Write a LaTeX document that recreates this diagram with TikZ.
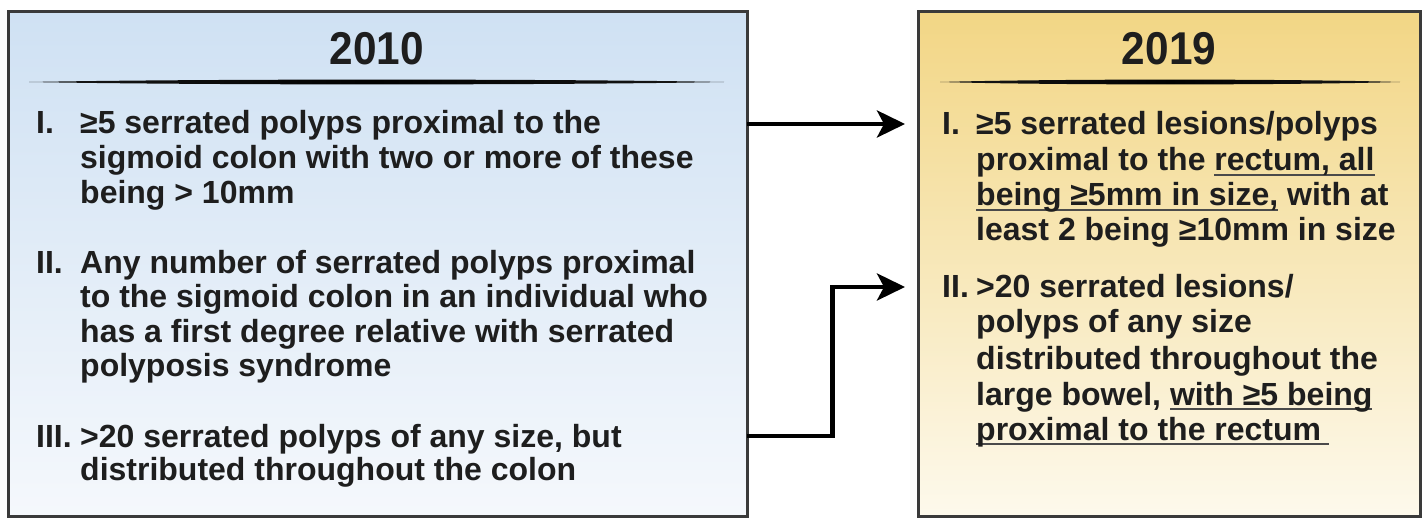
\documentclass[tikz,border=0pt]{standalone}
\usepackage{fontspec}
\setmainfont{Liberation Sans}
\usetikzlibrary{arrows.meta,calc}
\definecolor{txt}{HTML}{1E1E1E}
\definecolor{frame}{HTML}{3A3A3A}
\definecolor{uline}{HTML}{4A4A4A}
\definecolor{bluetop}{HTML}{CFE1F3}
\definecolor{bluebot}{HTML}{F5F8FC}
\definecolor{goldtop}{HTML}{F2D685}
\definecolor{goldbot}{HTML}{FDF9EC}
\pgfdeclarehorizontalshading{sepshade}{100bp}{color(0bp)=(white!60!black); color(10bp)=(black!85); color(50bp)=(black); color(90bp)=(black!85); color(100bp)=(white!60!black)}
\newcommand{\ulx}[1]{\setbox0=\hbox{#1}\rlap{\textcolor{uline}{\rule[-5pt]{\wd0}{1.6pt}}}\box0{}}
\tikzset{
  box/.style={draw=frame, line width=3pt, inner sep=0pt, outer sep=0pt, anchor=north west},
  title/.style={font=\fontsize{46}{46}\selectfont\bfseries\addfontfeatures{FakeStretch=0.92}, text=txt, inner sep=0pt},
  tx/.style={font=\fontsize{32}{35}\selectfont\bfseries, text=txt, anchor=base west, inner sep=0pt},
  arr/.style={line width=4.5pt, draw=black, line join=miter, -{Stealth[length=28pt,width=27pt,inset=7pt]}, shorten >=13pt}
}
\begin{document}
\begin{tikzpicture}[x=1pt,y=-1pt]
\useasboundingbox (0,0) rectangle (1426,518);
% boxes
\node[box, top color=bluetop, bottom color=bluebot, minimum width=739pt, minimum height=504pt] (L) at (8,12) {};
\node[box, top color=goldtop, bottom color=goldbot, minimum width=502pt, minimum height=504pt] (R) at (918,12) {};
% titles
\node[title] (t1) at (377,48.5) {2010};
\node[title] (t2) at (1169,48.5) {2019};
% separators
\shade[shading=sepshade] (29,82) .. controls (200,78.8) and (554,78.8) .. (724,82) .. controls (554,85.2) and (200,85.2) .. (29,82) -- cycle;
\shade[shading=sepshade] (940,82) .. controls (1054,78.8) and (1286,78.8) .. (1400,82) .. controls (1286,85.2) and (1054,85.2) .. (940,82) -- cycle;
% left items
\node[tx] (l1n) at (36,134) {I.};
\node[tx] (l1a) at (80,134) {≥5 serrated polyps proximal to the};
\node[tx] (l1b) at (80,169) {sigmoid colon with two or more of these};
\node[tx] (l1c) at (80,204) {being > 10mm};
\node[tx] (l2n) at (36,274) {II.};
\node[tx] (l2a) at (80,274) {Any number of serrated polyps proximal};
\node[tx] (l2b) at (80,308) {to the sigmoid colon in an individual who};
\node[tx] (l2c) at (80,342) {has a first degree relative with serrated};
\node[tx] (l2d) at (80,376) {polyposis syndrome};
\node[tx] (l3n) at (36,447) {III.};
\node[tx] (l3a) at (80,447) {>20 serrated polyps of any size, but};
\node[tx] (l3b) at (80,480) {distributed throughout the colon};
% right items
\node[tx] (r1n) at (942,135) {I.};
\node[tx] (r1a) at (976,135) {≥5 serrated lesions/polyps};
\node[tx] (r1b) at (976,171) {proximal to the \ulx{rectum, all}};
\node[tx] (r1c) at (976,206) {\ulx{being ≥5mm in size,} with at};
\node[tx] (r1d) at (976,241) {least 2 being ≥10mm in size};
\node[tx] (r2n) at (942,298) {II.};
\node[tx] (r2a) at (976,298) {>20 serrated lesions/};
\node[tx] (r2b) at (976,333) {polyps of any size};
\node[tx] (r2c) at (976,369) {distributed throughout the};
\node[tx] (r2d) at (976,405) {large bowel, \ulx{with ≥5 being}};
\node[tx] (r2e) at (976,440) {\ulx{proximal to the rectum\hspace{8pt}}};
% connectors
\coordinate (mid) at ($(L.east)!0.5!(R.west)$);
\draw[arr] (L.east |- r1n.center) -- (R.west |- r1n.center);
\draw[arr] (L.east |- l3n.center) -| (mid |- r2n.center) -- (R.west |- r2n.center);
\end{tikzpicture}
\end{document}
